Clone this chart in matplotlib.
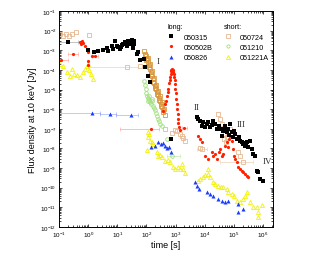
import matplotlib
matplotlib.use('Agg')
import matplotlib.pyplot as plt
from matplotlib.lines import Line2D
from matplotlib.ticker import LogLocator, NullFormatter

plt.rcParams['font.family'] = ['Liberation Sans', 'DejaVu Sans']
plt.rcParams['mathtext.fontset'] = 'custom'
plt.rcParams['mathtext.rm'] = 'Liberation Sans'
plt.rcParams['mathtext.it'] = 'Liberation Sans:italic'

# ---- data: time [s], flux density [Jy] ----
# GRB 050315 (long)
t_050315 = [1.0, 1.6, 2.2, 3.2, 4.5, 4.8, 6.6, 7.2, 8.3, 9.8, 10.7, 12.5, 13.5, 14.5,
            15.8, 18.6, 20, 21.8, 23.4, 25, 27.5, 29.5, 31, 32, 33, 35, 36, 38,
            47, 52, 60, 83, 91, 117, 134, 710,
            5500, 6000, 7100, 8100, 8900, 1.0e4, 1.23e4, 1.32e4, 1.55e4, 1.8e4, 1.95e4,
            2.3e4, 2.7e4, 3.2e4, 3.4e4, 4.0e4, 4.4e4, 4.7e4, 5.0e4, 5.9e4, 6.5e4, 7.1e4,
            7.6e4, 8.9e4, 9.5e4, 1.0e5, 1.12e5, 1.32e5, 1.48e5, 1.66e5, 1.95e5, 2.1e5,
            2.45e5, 2.7e5, 2.9e5, 3.1e5, 3.6e5, 4.3e5, 4.7e5, 5.5e5, 6.3e5, 6.9e5,
            8.1e5, 1.02e6]
f_050315 = [1.0e-3, 8.1e-4, 9.1e-4, 1.0e-3, 1.3e-3, 9.1e-4, 1.6e-3, 1.15e-3, 2.95e-3,
            1.6e-3, 1.45e-3, 1.15e-3, 1.4e-3, 1.9e-3, 2.1e-3, 2.6e-3, 2.0e-3, 1.6e-3,
            2.95e-3, 2.4e-3, 2.6e-3, 2.1e-3, 2.6e-3, 3.3e-3, 2.0e-3, 1.3e-3, 2.8e-3,
            2.2e-3, 6.5e-4, 8.0e-4, 3.3e-4, 3.5e-4, 1.35e-4, 5.0e-5, 2.5e-5, 3.0e-8,
            3.9e-7, 3.2e-7, 2.45e-7, 1.35e-7, 2.2e-7, 1.26e-7, 1.7e-7, 2.2e-7, 1.2e-7,
            1.6e-7, 2.45e-7, 1.7e-7, 9.5e-8, 1.4e-7, 9.5e-8, 4.2e-8, 7.6e-8, 1.0e-7,
            1.35e-7, 6.8e-8, 9.5e-8, 5.0e-8, 1.7e-7, 6.8e-8, 3.7e-8, 8.0e-8, 5.2e-8,
            3.0e-8, 4.0e-8, 2.3e-8, 2.1e-8, 1.6e-8, 1.3e-8, 1.8e-8, 2.1e-8, 1.15e-8,
            2.3e-8, 9.1e-9, 5.0e-9, 4.0e-9, 6.9e-10, 6.2e-10, 2.7e-10, 2.1e-10]
t_050315_bar = [0.2]
f_050315_bar = [2.6e-3]
tlo_050315_bar = [0.1]
thi_050315_bar = [0.45]

# GRB 050502B (long)
t_050502B = [0.52, 0.56, 0.62, 0.66, 0.78, 0.91, 1.0, 1.35, 1.0, 0.98,
             370, 440, 480, 510, 540, 560, 600, 630, 650, 680, 710, 720, 760, 790, 830,
             850, 890, 930, 950, 980, 1000, 1050, 1100, 1150, 1170, 1230, 1260, 1320,
             1450,
             6000, 7100, 8100, 1.05e4, 1.32e4, 1.8e4, 1.95e4, 2.3e4, 2.7e4, 3.2e4,
             3.4e4, 4.0e4, 4.4e4, 5.0e4, 5.9e4, 6.5e4, 6.9e4, 7.6e4, 8.1e4, 8.9e4,
             9.5e4, 1.0e5, 1.12e5, 1.32e5, 1.41e5, 1.66e5, 1.95e5, 2.1e5, 2.45e5,
             2.9e5, 3.1e5]
f_050502B = [2.6e-3, 2.0e-3, 2.95e-3, 2.3e-3, 1.6e-3, 1.15e-3, 8.1e-4, 5.0e-4, 2.8e-4,
             1.7e-4,
             7.9e-7, 1.8e-6, 2.5e-6, 4.6e-6, 7.9e-6, 1.05e-5, 2.1e-5, 3.2e-5, 4.3e-5,
             6.3e-5, 8.7e-5, 1.0e-4, 1.1e-4, 7.9e-5, 9.8e-5, 6.3e-5, 4.3e-5, 2.0e-5,
             3.2e-5, 1.05e-5, 6.3e-6, 3.2e-6, 1.8e-6, 1.0e-6, 5.6e-7, 3.1e-7, 2.0e-7,
             1.2e-7, 8.5e-8,
             4.2e-8, 3.0e-8, 2.1e-8, 4.0e-9, 2.8e-9, 6.5e-9, 4.0e-9, 5.0e-9, 2.8e-9,
             6.5e-9, 9.1e-9, 4.0e-9, 5.0e-9, 1.3e-8, 2.1e-8, 1.15e-8, 3.0e-8, 4.2e-8,
             7.6e-8, 2.3e-8, 9.1e-9, 4.0e-9, 2.8e-9, 2.0e-9, 1.1e-9, 8.7e-10, 6.9e-10,
             6.2e-10, 4.8e-10, 3.8e-10, 3.4e-10]
t_050502B_bar = [0.12, 0.30, 1.74, 140, 2000]
f_050502B_bar = [3.2e-4, 6.2e-4, 5.0e-4, 1.0e-7, 1.07e-7]
tlo_050502B_bar = [0.1, 0.2, 1.4, 12, 1600]
thi_050502B_bar = [0.2, 0.45, 2.2, 260, 2500]

# GRB 050826 (long)
t_050826 = [145, 200, 250, 320, 370, 440, 510, 600, 710,
            4700, 5500, 6500, 1.23e4, 1.55e4, 1.95e4, 2.9e4, 4.0e4, 5.0e4, 6.5e4,
            1.41e5, 1.41e5, 2.1e5]
f_050826 = [1.15e-8, 1.3e-8, 2.1e-8, 1.6e-8, 1.85e-8, 1.3e-8, 1.0e-8, 1.15e-8, 6.5e-9,
            1.9e-10, 1.2e-10, 8.3e-11, 5.9e-11, 4.6e-11, 3.6e-11, 2.6e-11, 2.0e-11,
            1.8e-11, 2.0e-11, 1.4e-11, 5.5e-12, 7.9e-12]
t_050826_bar = [1.3, 5.4, 30]
f_050826_bar = [6.3e-7, 5.5e-7, 5.1e-7]
tlo_050826_bar = [0.1, 2.6, 8.9]
thi_050826_bar = [2.6, 8.9, 51]

# GRB 050724 (short) - sparse points
t_050724 = [0.107, 0.14, 0.17, 0.22, 0.28, 0.38, 1.07, 60,
            440, 760, 980, 1150, 1450, 1700, 1800, 2100, 7100,
            2.9e4, 3.4e4, 4.0e4, 4.4e4, 5.0e4, 4.7e4, 5.9e4, 6.5e4, 7.6e4, 5.5e4,
            1.41e5, 1.66e5]
f_050724 = [6.8e-3, 5.2e-3, 6.8e-3, 5.2e-3, 6.8e-3, 8.5e-3, 6.0e-3, 1.55e-4,
            9.5e-8, 6.0e-8, 8.5e-8, 7.6e-8, 5.2e-8, 4.2e-8, 3.3e-8, 2.3e-8, 1.0e-8,
            5.5e-7, 3.1e-7, 1.7e-7, 9.5e-8, 5.2e-8, 3.0e-8, 3.7e-8, 6.8e-8, 9.5e-8,
            2.1e-8, 6.5e-9, 4.0e-9]
t_050724_bar = [21, 8100, 2.1e5]
f_050724_bar = [1.4e-4, 9.1e-9, 2.0e-9]
tlo_050724_bar = [1.0, 5500, 3.4e4]
thi_050724_bar = [51, 1.2e4, 4.7e5]
# GRB 050724 steep decay (segment I)
t_050724_steep = [83, 87, 91, 98, 100, 105, 110, 115, 120, 123, 129, 135, 141, 145, 151,
                  158, 166, 170, 178, 182, 191, 200, 209, 214, 224, 234, 245, 251, 263,
                  275, 288, 295, 309, 324, 339, 347, 363, 372, 398, 417]
f_050724_steep = [9.1e-4, 5.6e-4, 6.5e-4, 5.0e-4, 3.2e-4, 3.5e-4, 4.0e-4, 2.5e-4,
                  1.4e-4, 1.7e-4, 2.0e-4, 1.1e-4, 6.3e-5, 7.8e-5, 8.9e-5, 4.8e-5,
                  2.5e-5, 3.4e-5, 4.0e-5, 2.1e-5, 1.26e-5, 1.5e-5, 1.8e-5, 1.05e-5,
                  5.6e-6, 7.4e-6, 8.9e-6, 5.1e-6, 2.8e-6, 3.6e-6, 4.5e-6, 2.6e-6,
                  1.4e-6, 1.8e-6, 2.2e-6, 1.26e-6, 7.1e-7, 8.9e-7, 1.0e-6, 5.0e-7]

# GRB 051210 (short)
t_051210 = [83, 91, 93, 98, 105, 112, 115, 123, 126, 135, 145, 151, 158, 170, 182,
            200, 214, 234, 251, 275, 295, 347, 510]
f_051210 = [2.7e-5, 1.65e-5, 1.05e-5, 6.6e-6, 4.6e-6, 2.5e-6, 3.6e-6, 2.9e-6, 4.5e-6,
            2.3e-6, 1.8e-6, 3.2e-6, 2.6e-6, 1.4e-6, 1.1e-6, 8.9e-7, 6.3e-7, 4.4e-7,
            3.1e-7, 2.45e-7, 1.7e-7, 1.35e-7, 3.0e-8]
t_051210_bar = [760]
f_051210_bar = [4.0e-9]
tlo_051210_bar = [500]
thi_051210_bar = [1450]

# GRB 051221A (short)
t_051221A = [0.107, 0.14, 0.19, 0.24, 0.28, 0.33, 0.42, 0.52, 0.66, 0.78, 0.91, 1.0,
             1.07, 1.26, 1.48,
             102, 115, 117, 123, 135, 158, 170, 234, 251, 295, 347, 440, 560, 650, 830,
             980, 1230, 1450, 1700, 1800, 2100,
             6000, 7100, 8900, 1.05e4, 1.32e4, 1.32e4, 1.55e4, 1.95e4, 2.3e4, 2.9e4,
             3.7e4, 4.4e4, 5.9e4, 6.5e4, 8.9e4, 1.02e5, 1.32e5, 1.66e5, 2.1e5, 2.45e5,
             2.9e5, 3.6e5, 4.7e5, 6.3e5, 6.9e5, 6.9e5, 9.5e5]
f_051221A = [2.0e-4, 1.55e-4, 7.8e-5, 4.8e-5, 1.1e-4, 6.2e-5, 5.4e-5, 4.3e-5, 7.8e-5,
             1.1e-4, 1.55e-4, 2.0e-4, 9.8e-5, 6.2e-5, 3.4e-5,
             8.1e-9, 3.7e-8, 6.5e-8, 5.2e-8, 2.3e-8, 2.1e-8, 1.6e-8, 6.5e-9, 4.0e-9,
             4.5e-9, 3.5e-9, 2.2e-9, 2.5e-9, 2.0e-9, 1.2e-9, 8.7e-10, 1.1e-9, 8.7e-10,
             1.55e-9, 8.7e-10, 5.4e-10,
             2.1e-10, 2.7e-10, 3.4e-10, 4.3e-10, 8.7e-10, 4.8e-10, 3.4e-10, 1.9e-10,
             1.5e-10, 1.2e-10, 1.05e-10, 1.05e-10, 8.3e-11, 5.9e-11, 4.6e-11, 3.6e-11,
             2.0e-11, 1.8e-11, 2.6e-11, 3.6e-11, 5.9e-11, 1.8e-11, 1.1e-11, 1.0e-11,
             5.5e-12, 3.1e-12, 1.26e-11]

# segment labels
seg_labels = ['I', 'II', 'III', 'IV']
seg_t = [230, 4200, 1.25e5, 9.5e5]
seg_f = [2.8e-4, 1.3e-6, 1.7e-7, 2.3e-9]

fig = plt.figure(figsize=(3.3, 2.55), dpi=100)
ax = fig.add_axes([0.179, 0.106, 0.648, 0.847])
ax.set_xscale('log')
ax.set_yscale('log')

ms = 2.3
mew = 0.6
c_tan = '#e8b890'
c_org = '#d8963c'
c_green = '#9ee07a'
c_yel = '#f2f200'
c_red = '#ff2200'
c_blue = '#1a3cff'


def bars(t, f, lo, hi, color, **kw):
    xerr = [[a - b for a, b in zip(t, lo)], [b - a for a, b in zip(t, hi)]]
    ax.errorbar(t, f, xerr=xerr, fmt='none', ecolor=color, elinewidth=0.7,
                capsize=1.2, capthick=0.6, alpha=0.45, zorder=1)
    ax.plot(t, f, linestyle='none', color=color, **kw)


# short bursts (open symbols)
ax.plot(t_051221A, f_051221A, '^', ms=ms + 0.6, mfc='none', mec=c_yel, mew=mew, zorder=2)
ax.plot(t_051210, f_051210, 'o', ms=ms + 0.3, mfc='none', mec=c_green, mew=mew, zorder=2)
bars(t_051210_bar, f_051210_bar, tlo_051210_bar, thi_051210_bar, c_green,
     marker='o', ms=ms + 0.3, mfc='none', mec=c_green, mew=mew, zorder=2)
ax.plot(t_050724, f_050724, 's', ms=ms, mfc='none', mec=c_tan, mew=mew, zorder=2)
bars(t_050724_bar, f_050724_bar, tlo_050724_bar, thi_050724_bar, c_tan,
     marker='s', ms=ms, mfc='none', mec=c_tan, mew=mew, zorder=2)
ax.plot(t_050724_steep, f_050724_steep, 's', ms=ms, mfc='none', mec=c_org, mew=mew, zorder=2)

# long bursts (filled symbols)
ax.plot(t_050826, f_050826, '^', ms=ms + 0.6, color=c_blue, mew=0, zorder=3)
bars(t_050826_bar, f_050826_bar, tlo_050826_bar, thi_050826_bar, '#6f87ff',
     marker='^', ms=ms + 0.6, mfc=c_blue, mec=c_blue, mew=0, zorder=3)
ax.plot(t_050502B, f_050502B, 'o', ms=ms, color=c_red, mew=0, zorder=3)
bars(t_050502B_bar, f_050502B_bar, tlo_050502B_bar, thi_050502B_bar, '#ff7060',
     marker='o', ms=ms, mfc=c_red, mec=c_red, mew=0, zorder=3)
ax.plot(t_050315, f_050315, 's', ms=ms, color='black', mew=0, zorder=3)
bars(t_050315_bar, f_050315_bar, tlo_050315_bar, thi_050315_bar, '#777777',
     marker='s', ms=ms, mfc='black', mec='black', mew=0, zorder=3)

for lab, t, f in zip(seg_labels, seg_t, seg_f):
    ax.text(t, f, lab, family='Liberation Serif', fontsize=6.5, color='#333333',
            ha='left', va='center')

ax.set_xlim(0.1, 2.2e6)
ax.set_ylim(1e-12, 1e-1)
for axis in (ax.xaxis, ax.yaxis):
    axis.set_major_locator(LogLocator(base=10, numticks=30))
    axis.set_minor_locator(LogLocator(base=10, subs=range(2, 10), numticks=30))
    axis.set_minor_formatter(NullFormatter())
ax.set_xlabel('time [s]', fontsize=6.5, labelpad=1)
ax.set_ylabel('Flux density at 10 keV [Jy]', fontsize=6.5, labelpad=2)
ax.tick_params(which='both', direction='in', top=True, right=True, labelsize=4.5,
               width=0.5, pad=2)
ax.tick_params(which='major', length=2.5)
ax.tick_params(which='minor', length=1.3)
for s in ax.spines.values():
    s.set_linewidth(0.7)

# legend: two columns with titles
long_h = [Line2D([], [], ls='none', marker='s', ms=ms, color='black', mew=0),
          Line2D([], [], ls='none', marker='o', ms=ms, color=c_red, mew=0),
          Line2D([], [], ls='none', marker='^', ms=ms + 0.6, color=c_blue, mew=0)]
short_h = [Line2D([], [], ls='none', marker='s', ms=ms, mfc='none', mec=c_tan, mew=mew),
           Line2D([], [], ls='none', marker='o', ms=ms, mfc='none', mec=c_green, mew=mew),
           Line2D([], [], ls='none', marker='^', ms=ms + 0.6, mfc='none', mec=c_yel, mew=mew)]
leg_kw = dict(frameon=False, fontsize=5.2, title_fontsize=5.2, alignment='left',
              handlelength=1.0, handletextpad=1.2, labelspacing=0.45, borderpad=0,
              loc='upper left')
leg1 = ax.legend(long_h, ['050315', '050502B', '050826'], title='long:',
                 bbox_to_anchor=(0.49, 0.96), **leg_kw)
ax.add_artist(leg1)
ax.legend(short_h, ['050724', '051210', '051221A'], title='short:',
          bbox_to_anchor=(0.755, 0.96), **leg_kw)

fig.savefig('out.png', dpi=100)
